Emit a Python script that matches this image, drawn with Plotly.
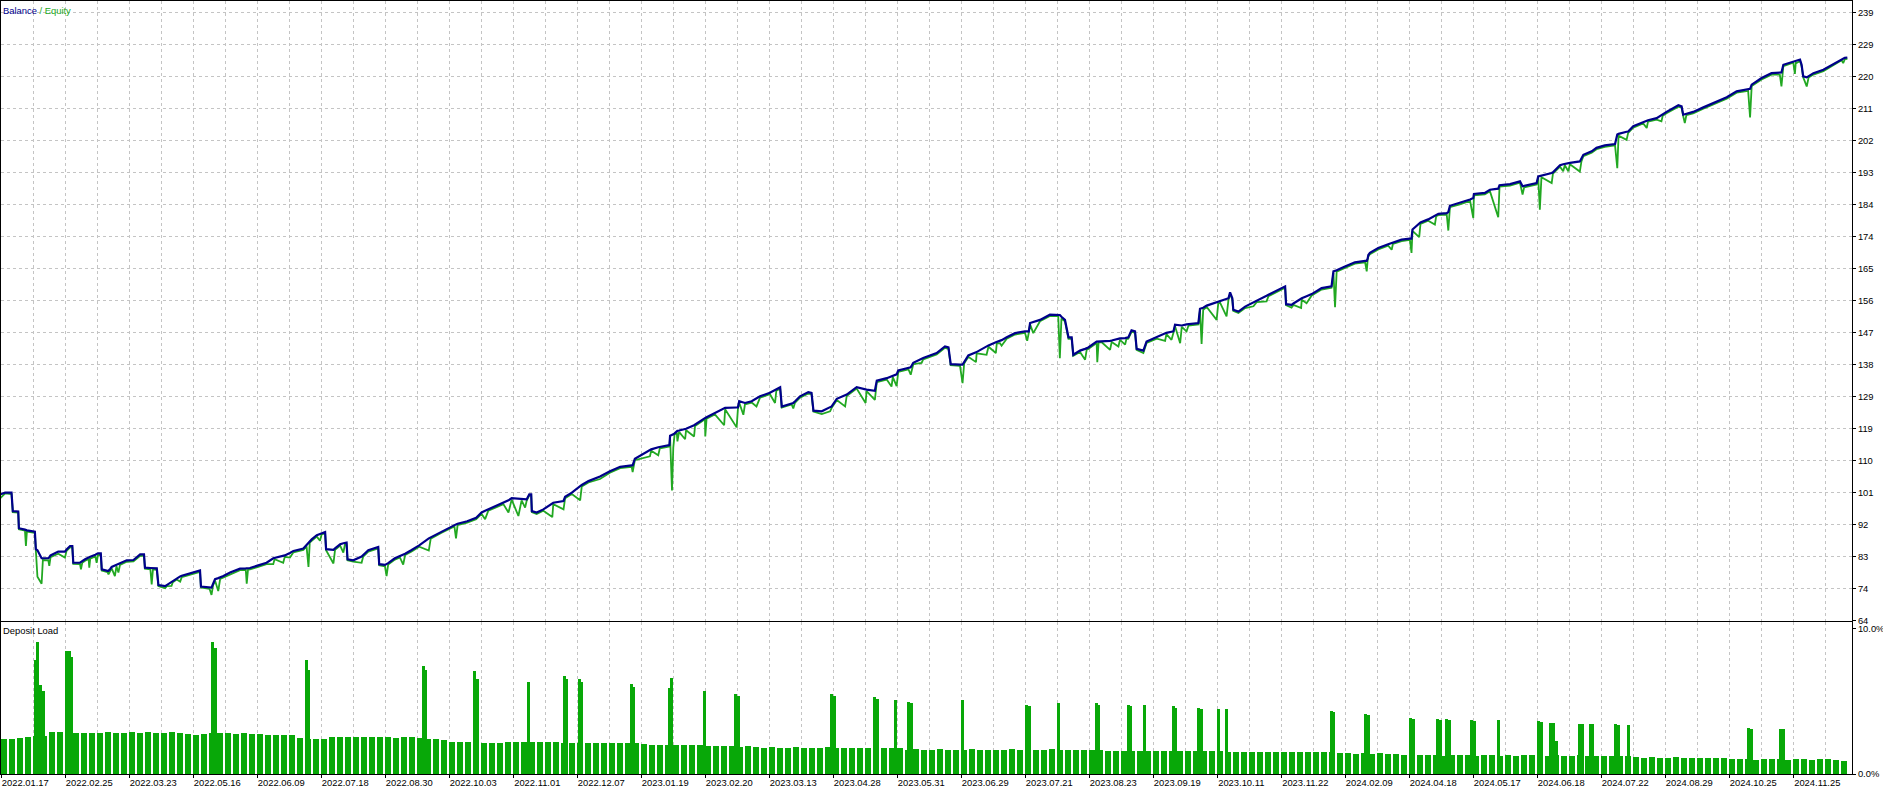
import numpy as np
import plotly.graph_objects as go

# ---------------- data ----------------
# x position in chart grid units (one unit = one vertical grid cell of the chart)
x_pos = [
    0.00, 0.16, 0.36, 0.40, 0.57, 0.59, 0.78, 0.81, 0.84, 1.09,
    1.12, 1.17, 1.30, 1.34, 1.51, 1.54, 1.58, 1.82, 2.03, 2.08,
    2.19, 2.26, 2.29, 2.50, 2.53, 2.57, 2.66, 2.77, 2.79, 2.82,
    2.98, 3.02, 3.06, 3.15, 3.18, 3.36, 3.39, 3.45, 3.49, 3.59,
    3.64, 3.70, 3.75, 3.96, 4.17, 4.38, 4.50, 4.53, 4.70, 4.74,
    4.78, 4.90, 4.95, 5.16, 5.21, 5.36, 5.40, 5.52, 5.63, 5.68,
    5.83, 6.25, 6.28, 6.55, 6.61, 6.66, 6.72, 6.82, 6.88, 6.98,
    7.19, 7.50, 7.68, 7.71, 7.75, 7.81, 8.02, 8.33, 8.54, 8.58,
    8.85, 8.90, 9.06, 9.17, 9.48, 9.58, 9.64, 9.68, 9.74, 9.90,
    10.00, 10.05, 10.16, 10.19, 10.42, 10.47, 10.63, 10.73, 10.78, 10.83,
    10.86, 11.04, 11.30, 11.35, 11.51, 11.82, 11.85, 12.03, 12.08, 12.13,
    12.34, 12.50,
    12.60, 12.66, 12.85, 13.10, 13.40, 13.46, 13.80, 14.20, 14.25, 14.30,
    14.60, 14.88,
    15.05, 15.16, 15.26, 15.52, 15.73, 15.89, 15.99, 16.20, 16.30, 16.41,
    16.46, 16.54, 16.60, 16.62, 16.77, 16.98, 17.26, 17.29, 17.61, 17.66,
    17.87, 18.13, 18.18, 18.39, 18.75, 19.06,
    19.38, 19.74, 19.77, 19.84, 20.31, 20.35, 20.57, 20.62, 20.92, 20.94,
    21.00, 21.04, 21.08, 21.15, 21.17, 21.22, 21.41, 21.44, 21.69, 21.72,
    22.03, 22.04, 22.08, 22.34, 22.63, 22.66, 23.02, 23.06, 23.10, 23.23,
    23.28, 23.49, 23.64, 23.75, 24.06, 24.22, 24.26, 24.38, 24.43, 24.74,
    24.79, 24.84, 25.00, 25.26, 25.36, 25.42, 25.68, 25.94, 25.99, 26.15,
    26.41, 26.46, 26.77, 27.05, 27.08, 27.34, 27.40, 27.71, 27.86, 27.90,
    28.02, 28.07, 28.39, 28.46, 28.54, 28.80, 28.85, 29.27, 29.53, 29.64,
    29.71, 30.00, 30.08, 30.13, 30.26, 30.50, 30.52, 30.83, 30.89, 31.12,
    31.15,
    31.25, 31.30, 31.46, 31.72, 32.03, 32.10, 32.15, 32.19, 32.29, 32.38,
    32.50, 32.81, 33.07, 33.12, 33.17, 33.28, 33.39, 33.49, 33.54, 33.75,
    33.91, 33.96, 34.01, 34.27, 34.29, 34.33, 34.43, 34.69, 34.74, 34.95,
    35.00, 35.16, 35.20, 35.26, 35.36, 35.47, 35.52, 35.73, 35.83, 36.15,
    36.41, 36.45, 36.61, 36.67, 36.72, 36.88, 36.93, 37.08, 37.14, 37.45,
    37.50, 37.55, 37.60, 37.71, 38.02, 38.07, 38.13, 38.33, 38.37, 38.39,
    38.44, 38.51, 38.54, 38.70, 38.91, 39.17, 39.27, 39.58, 39.64, 39.90,
    40.16, 40.19, 40.36, 40.42, 40.66, 40.68, 40.83, 40.99, 41.30, 41.61,
    41.67, 41.72, 41.77, 42.03, 42.34, 42.66, 42.71, 42.74, 42.76,
    42.81, 43.07, 43.38, 43.49, 43.53, 43.80, 44.06, 44.11, 44.14, 44.35,
    44.39, 44.63, 44.84, 44.88, 44.95, 45.21, 45.26, 45.31, 45.62, 45.94,
    46.04, 46.06, 46.40, 46.56, 46.82, 46.86, 47.19, 47.50, 47.58, 47.63,
    48.02, 48.07, 48.12, 48.17, 48.49, 48.53, 48.75, 48.85, 48.90, 49.01,
    49.06, 49.37, 49.42, 49.48, 49.74, 49.89, 50.15, 50.47, 50.54, 50.58,
    50.83, 50.88, 51.04, 51.35, 51.46, 51.50, 51.77, 51.92, 51.96, 52.08,
    52.45, 52.55, 52.60, 52.65, 52.70, 52.91, 53.23, 53.64, 53.96, 54.27,
    54.63, 54.69, 54.74, 55.05, 55.36, 55.62, 55.67, 55.73, 56.04, 56.09,
    56.12, 56.14, 56.25, 56.30, 56.35, 56.46, 56.52, 56.67, 56.98, 57.29,
    57.55, 57.60, 57.65, 57.73,
]

balance = [
    100.6, 101.1, 101.1, 95.8, 95.7, 90.9, 90.5, 90.4, 90.3, 89.9,
    84.9, 84.6, 82.3, 82.3, 82.3, 82.6, 83.1, 84.2, 84.2, 84.8,
    85.8, 85.8, 81.0, 81.0, 81.2, 81.4, 82.0, 82.5, 82.5, 82.7,
    83.3, 83.5, 83.7, 83.7, 79.1, 78.7, 78.7, 79.3, 79.8, 80.2,
    80.4, 80.6, 80.8, 81.7, 81.8, 83.4, 83.4, 79.6, 79.5, 79.5,
    79.5, 79.4, 74.6, 74.3, 74.6, 75.5, 75.8, 76.6, 77.1, 77.3,
    77.7, 78.8, 74.2, 73.9, 73.9, 75.0, 76.3, 76.6, 76.8, 77.2,
    78.2, 79.3, 79.4, 79.4, 79.4, 79.5, 80.1, 81.0, 82.3, 82.4,
    82.9, 83.1, 83.8, 84.4, 85.1, 86.1, 86.9, 87.2, 87.7, 88.9,
    89.3, 89.5, 89.8, 84.9, 84.7, 85.1, 86.3, 86.6, 86.7, 86.8,
    82.0, 81.7, 82.8, 83.2, 84.6, 85.5, 80.6, 80.4, 80.6, 80.9,
    82.3, 82.9,
    83.3, 83.6, 84.6, 86.0, 88.0, 88.3, 90.0, 91.8, 92.0, 92.2,
    92.9, 93.9,
    95.4, 95.9, 96.3, 97.3, 98.2, 98.9, 99.5, 99.4, 99.3, 99.2,
    99.2, 100.6, 100.6, 95.8, 95.4, 96.3, 98.0, 98.2, 98.7, 99.9,
    101.1, 103.0, 103.3, 104.4, 105.7, 107.2,
    108.5, 108.9, 108.9, 110.8, 113.4, 113.5, 114.1, 114.2, 114.7, 117.4,
    117.6, 117.8, 118.1, 118.7, 118.8, 118.9, 119.3, 119.4, 120.4, 120.6,
    122.5, 122.5, 122.7, 123.9, 125.3, 125.4, 125.5, 125.5, 127.3, 127.0,
    126.8, 127.3, 128.1, 128.7, 129.7, 130.5, 130.7, 131.3, 125.8, 126.8,
    126.8, 127.2, 128.7, 129.9, 129.7, 124.6, 124.4, 125.6, 125.8, 128.0,
    129.0, 129.2, 131.3, 130.6, 130.6, 130.3, 133.2, 133.9, 134.4, 134.6,
    135.0, 136.1, 136.8, 137.0, 138.3, 139.5, 139.7, 141.1, 143.0, 142.7,
    137.9, 137.8, 137.8, 138.5, 140.4, 141.3, 141.4, 143.0, 143.3, 144.2,
    144.3,
    144.6, 144.8, 145.6, 146.8, 147.3, 147.3, 147.3, 149.7, 150.0, 150.2,
    150.6, 152.1, 152.1, 152.0, 151.5, 150.6, 145.6, 145.6, 140.6, 141.8,
    142.3, 142.5, 142.7, 144.4, 144.4, 144.5, 144.6, 144.6, 144.7, 145.2,
    145.3, 145.4, 145.5, 145.6, 147.6, 147.3, 142.3, 141.8, 144.4, 145.6,
    146.8, 146.9, 147.2, 147.3, 149.2, 149.1, 149.0, 149.3, 149.4, 149.7,
    153.8, 153.9, 154.1, 154.7, 155.6, 155.7, 155.9, 156.6, 156.7, 156.8,
    158.5, 156.8, 153.5, 153.0, 154.4, 155.7, 156.1, 157.5, 157.8, 159.0,
    160.2, 155.1, 154.9, 155.3, 156.7, 156.8, 157.4, 158.0, 159.7, 160.2,
    164.5, 164.6, 164.8, 165.9, 167.1, 167.5, 167.5, 168.2, 169.2,
    169.8, 171.2, 172.3, 172.7, 172.8, 173.6, 173.9, 173.9, 176.5, 178.2,
    178.5, 179.4, 180.5, 180.7, 181.0, 181.2, 181.5, 183.3, 184.1, 185.1,
    185.5, 186.7, 187.0, 187.9, 188.2, 189.2, 189.5, 190.3, 188.9, 189.0,
    189.8, 191.7, 191.8, 191.9, 192.7, 192.9, 194.9, 195.2, 195.3, 195.5,
    195.6, 196.0, 196.8, 197.9, 198.9, 199.9, 200.6, 201.0, 203.7, 203.9,
    204.5, 204.6, 206.1, 207.3, 207.6, 207.8, 208.4, 209.3, 209.5, 210.2,
    212.1, 211.8, 209.4, 209.5, 209.7, 210.2, 211.5, 213.2, 214.4, 216.1,
    216.6, 216.8, 218.0, 219.9, 221.3, 221.3, 221.5, 223.7, 224.7, 224.8,
    224.9, 225.0, 225.2, 223.7, 220.4, 220.1, 220.5, 221.3, 222.3, 223.9,
    225.4, 225.6, 225.7, 225.8,
]

equity = [
    99.4, 100.9, 100.7, 95.5, 95.4, 90.6, 90.2, 85.8, 89.9, 89.6,
    84.6, 77.0, 75.0, 81.8, 81.7, 80.1, 82.6, 83.6, 82.5, 84.4,
    85.4, 85.4, 80.7, 80.6, 79.1, 81.0, 81.6, 82.0, 79.6, 82.2,
    82.8, 81.0, 83.2, 83.3, 78.8, 78.3, 77.7, 78.9, 79.4, 77.2,
    80.0, 78.2, 80.4, 81.3, 81.4, 83.0, 83.0, 79.3, 79.1, 74.8,
    79.1, 79.0, 74.3, 73.7, 74.3, 74.4, 75.4, 76.2, 75.6, 76.9,
    77.3, 78.4, 73.9, 73.5, 71.8, 74.6, 75.9, 72.9, 76.4, 76.8,
    77.8, 78.9, 79.0, 75.0, 79.0, 79.1, 79.7, 80.6, 80.6, 82.0,
    81.0, 82.7, 82.5, 84.0, 84.7, 85.7, 79.8, 86.8, 87.3, 88.5,
    87.3, 89.1, 89.4, 84.6, 80.8, 84.7, 85.9, 83.9, 86.3, 86.4,
    81.7, 81.3, 81.0, 82.8, 84.2, 85.1, 80.3, 80.0, 77.2, 80.5,
    81.9, 82.5,
    80.5, 83.2, 84.2, 85.6, 84.5, 87.9, 89.6, 91.4, 88.0, 91.8,
    92.5, 93.5,
    95.0, 93.5, 95.9, 96.9, 97.8, 95.4, 99.1, 94.4, 98.9, 96.8,
    98.8, 100.3, 100.4, 95.5, 95.0, 95.9, 94.1, 97.8, 96.3, 99.5,
    100.7, 98.9, 102.9, 104.0, 105.0, 106.8,
    108.1, 108.5, 107.0, 110.4, 111.5, 113.1, 111.8, 113.8, 114.3, 117.0,
    101.7, 114.0, 117.7, 118.3, 115.8, 118.5, 116.4, 119.0, 117.2, 120.2,
    122.1, 117.2, 122.3, 123.5, 120.4, 125.0, 119.8, 125.1, 126.9, 123.4,
    126.4, 126.9, 125.8, 128.3, 129.3, 126.8, 130.3, 130.9, 125.5, 126.4,
    125.2, 126.8, 128.3, 129.5, 129.3, 124.3, 123.6, 124.4, 125.4, 127.6,
    125.8, 128.8, 130.9, 126.8, 130.2, 127.7, 132.8, 133.5, 131.5, 134.2,
    131.6, 135.7, 136.4, 134.9, 137.9, 138.3, 139.3, 140.7, 142.6, 142.3,
    137.6, 137.4, 132.5, 138.1, 140.0, 138.5, 141.0, 140.6, 142.9, 141.1,
    143.9,
    143.9, 143.2, 145.2, 146.4, 146.9, 144.6, 146.9, 149.3, 146.8, 148.2,
    150.2, 151.7, 151.7, 139.6, 151.0, 150.2, 145.2, 145.2, 140.3, 141.4,
    139.2, 142.1, 142.3, 144.0, 138.5, 144.1, 144.2, 142.0, 144.3, 143.0,
    144.9, 143.5, 145.1, 145.2, 147.2, 146.9, 142.0, 141.1, 144.0, 145.2,
    144.6, 146.5, 144.9, 146.9, 148.8, 143.9, 148.6, 147.3, 149.0, 149.3,
    153.4, 143.7, 153.5, 154.3, 150.6, 155.3, 155.5, 151.6, 156.3, 156.4,
    158.1, 156.4, 153.2, 152.6, 154.0, 154.5, 155.7, 155.9, 157.4, 158.6,
    159.8, 154.8, 154.1, 154.9, 154.0, 156.4, 155.4, 157.6, 159.3, 159.8,
    164.1, 154.2, 164.4, 165.5, 166.7, 167.1, 164.5, 167.8, 168.8,
    169.4, 170.8, 171.9, 170.7, 172.4, 173.2, 173.5, 169.8, 176.1, 174.3,
    178.1, 179.0, 177.9, 180.3, 180.6, 180.8, 176.2, 182.9, 183.7, 184.7,
    179.8, 186.3, 186.6, 187.5, 180.0, 188.8, 189.1, 189.9, 186.5, 188.6,
    189.4, 191.3, 182.2, 191.5, 189.8, 192.5, 194.5, 193.2, 194.9, 193.2,
    195.2, 193.1, 196.0, 197.5, 198.5, 199.5, 200.2, 200.6, 194.1, 203.4,
    202.2, 204.2, 205.7, 206.9, 205.6, 207.4, 208.0, 207.5, 209.1, 209.8,
    211.7, 211.4, 209.0, 207.0, 209.3, 209.8, 211.1, 212.8, 214.0, 215.7,
    216.2, 208.6, 217.6, 219.5, 220.9, 220.9, 217.5, 223.3, 224.3, 221.1,
    224.5, 224.2, 224.8, 223.3, 220.1, 217.5, 220.1, 220.9, 221.9, 223.5,
    225.0, 224.2, 225.3, 225.4,
]

# deposit load (%) – regular bars, one per quarter grid cell
load_base = [
    2.37, 2.37, 2.43, 2.53, 2.58, 2.58, 2.87, 2.85, 2.81, 2.81,
    2.79, 2.83, 2.81, 2.84, 2.83, 2.79, 2.85, 2.83, 2.84, 2.81,
    2.83, 2.84, 2.79, 2.73, 2.69, 2.71, 2.79, 2.83, 2.79, 2.77,
    2.81, 2.75, 2.77, 2.69, 2.67, 2.65, 2.67, 2.48, 2.38, 2.37,
    2.37, 2.52, 2.54, 2.50, 2.52, 2.53, 2.50, 2.52, 2.52, 2.48,
    2.50, 2.52, 2.48, 2.38, 2.36, 2.34, 2.18, 2.17, 2.19, 2.15,
    2.09, 2.09, 2.11, 2.19, 2.17, 2.19, 2.21, 2.19, 2.17, 2.19,
    2.13, 2.12, 2.11, 2.13, 2.12, 2.10, 2.12, 2.11, 2.09, 2.11,
    2.02, 1.98, 2.01, 1.96, 1.98, 1.96, 1.98, 1.96, 1.91, 1.90,
    1.88, 1.90, 1.86, 1.88, 1.84, 1.80, 1.81, 1.79, 1.80, 1.82,
    1.80, 1.78, 1.80, 1.81, 1.79, 1.80, 1.78, 1.80, 1.79, 1.81,
    1.80, 1.78, 1.79, 1.66, 1.67, 1.65, 1.66, 1.68, 1.66, 1.64,
    1.66, 1.67, 1.65, 1.66, 1.64, 1.66, 1.67, 1.66, 1.65, 1.64,
    1.66, 1.67, 1.65, 1.66, 1.64, 1.65, 1.66, 1.64, 1.57, 1.58,
    1.56, 1.57, 1.59, 1.57, 1.55, 1.57, 1.58, 1.56, 1.57, 1.55,
    1.57, 1.56, 1.55, 1.52, 1.53, 1.51, 1.52, 1.50, 1.52, 1.53,
    1.51, 1.52, 1.50, 1.51, 1.52, 1.50, 1.48, 1.40, 1.41, 1.39,
    1.40, 1.38, 1.40, 1.39, 1.38, 1.27, 1.26, 1.28, 1.26, 1.27,
    1.25, 1.26, 1.27, 1.26, 1.25, 1.27, 1.26, 1.24, 1.26, 1.25,
    1.26, 1.27, 1.25, 1.24, 1.26, 1.25, 1.24, 1.26, 1.25, 1.23,
    1.24, 1.25, 1.23, 1.22, 1.12, 1.11, 1.12, 1.10, 1.11, 1.12,
    1.10, 1.11, 1.10, 1.09, 1.11, 1.10, 0.99, 0.98, 0.99, 0.97,
    0.98, 0.99, 0.98, 0.97, 0.98, 0.99, 0.97, 0.98, 0.98, 0.97,
    0.91,
]

# deposit load spikes (position in grid units, load %)
spike_x = [
    1.094, 1.172, 1.266, 1.359, 2.078, 2.156, 2.219, 6.641, 6.734, 9.563,
    9.641, 13.219, 13.297, 14.828, 14.922, 16.500, 17.625, 17.688, 18.094, 18.172,
    19.719, 19.797, 20.922, 20.984, 22.016, 22.984, 23.063, 25.984, 26.078, 27.328,
    27.406, 27.969, 28.391, 28.469, 30.063, 32.078, 32.156, 33.078, 34.250, 34.328,
    35.266, 35.328, 35.766, 36.672, 36.734, 37.453, 37.531, 38.063, 38.328, 41.594,
    41.672, 42.672, 42.750, 44.078, 44.172, 44.922, 45.016, 45.203, 45.297, 45.984,
    46.078, 46.813, 48.078, 48.156, 48.453, 48.547, 48.625, 49.359, 49.438, 49.703,
    49.766, 50.484, 50.578, 50.875, 54.641, 54.719, 55.641, 55.734,
]
spike_load = [
    7.86, 9.10, 6.10, 5.69, 8.48, 8.48, 8.06, 9.10, 8.68, 7.81,
    7.13, 7.44, 7.13, 7.08, 6.51, 6.31, 6.72, 6.51, 6.51, 6.31,
    6.20, 6.00, 5.89, 6.62, 5.69, 5.48, 5.38, 5.48, 5.38, 5.27,
    5.17, 5.07, 4.96, 4.86, 5.07, 4.76, 4.65, 4.86, 4.86, 4.76,
    4.76, 4.65, 4.76, 4.65, 4.55, 4.55, 4.45, 4.45, 4.45, 4.34,
    4.24, 4.14, 4.03, 3.86, 3.77, 3.74, 3.70, 3.74, 3.70, 3.67,
    3.62, 3.67, 3.63, 3.57, 3.51, 3.49, 2.27, 3.44, 3.41, 3.44,
    3.41, 3.40, 3.36, 3.33, 3.17, 3.10, 3.10, 3.05,
]

date_labels = [
    "2022.01.17", "2022.02.25", "2022.03.23", "2022.05.16", "2022.06.09",
    "2022.07.18", "2022.08.30", "2022.10.03", "2022.11.01", "2022.12.07",
    "2023.01.19", "2023.02.20", "2023.03.13", "2023.04.28", "2023.05.31",
    "2023.06.29", "2023.07.21", "2023.08.23", "2023.09.19", "2023.10.11",
    "2023.11.22", "2024.02.09", "2024.04.18", "2024.05.17", "2024.06.18",
    "2024.07.22", "2024.08.29", "2024.10.25", "2024.11.25",
]

y_labels = ["64", "74", "83", "92", "101", "110", "119", "129", "138", "147",
            "156", "165", "174", "184", "193", "202", "211", "220", "229", "239"]
y_start = 64.4
y_step = 9.17

load_labels = ["0.0%", "10.0%"]
load_ticks = [0, 10]

# ---------------- styling ----------------
BAL = "#00008b"
EQ = "#22a822"
LOAD = "#08a808"
GRID = "#c4c4c4"
FONT = "Liberation Sans"
FS = 9.4

W, H = 1883, 787
ML, MR, MT, MB = 1, 31, 1, 13
plot_h = H - MT - MB
top_bottom_px = 620.7
bot_top_px = 622.3
dom_top = [(H - MB - top_bottom_px) / plot_h, 1.0]
dom_bot = [0.0, (H - MB - bot_top_px) / plot_h]

x_range = [ML / 32.0, (W - MR) / 32.0]
y_top = y_start + (top_bottom_px - MT) / 32.0 * y_step
y_range = [y_start, y_top]
load_top = (H - MB - bot_top_px) / 14.51

major_x = [0.04 + 2 * k for k in range(len(date_labels))]
minor_x = [1.04 + 2 * k for k in range(len(date_labels))]
y_ticks = [y_start + y_step * k for k in range(len(y_labels))]

load_x = 0.125 + 0.25 * np.arange(len(load_base))

fig = go.Figure()
fig.add_trace(go.Scatter(x=x_pos, y=equity, mode="lines",
                         line=dict(color=EQ, width=1.8),
                         xaxis="x", yaxis="y", hoverinfo="skip"))
fig.add_trace(go.Scatter(x=x_pos, y=balance, mode="lines",
                         line=dict(color=BAL, width=2.2),
                         xaxis="x", yaxis="y", hoverinfo="skip"))
fig.add_trace(go.Bar(x=load_x, y=load_base, width=0.215,
                     marker=dict(color=LOAD, line=dict(width=0)),
                     xaxis="x2", yaxis="y2", hoverinfo="skip"))
fig.add_trace(go.Bar(x=spike_x, y=spike_load, width=0.094,
                     marker=dict(color=LOAD, line=dict(width=0)),
                     xaxis="x2", yaxis="y2", hoverinfo="skip"))

common_x = dict(
    range=x_range, tickmode="array", tickvals=major_x,
    showgrid=True, gridcolor=GRID, griddash="3px,3px", gridwidth=1,
    minor=dict(tickvals=minor_x, showgrid=True, gridcolor=GRID,
               griddash="3px,3px", gridwidth=1, ticks=""),
    showline=True, linecolor="black", linewidth=1, mirror=True,
    zeroline=False, automargin=False, fixedrange=True,
)

fig.update_layout(
    width=W, height=H,
    margin=dict(l=ML, r=MR, t=MT, b=MB, pad=0),
    paper_bgcolor="white", plot_bgcolor="white",
    showlegend=False, barmode="overlay", bargap=0,
    font=dict(family=FONT, size=FS, color="black"),
    xaxis=dict(**common_x, domain=[0, 1], anchor="y",
               showticklabels=False, ticks=""),
    xaxis2=dict(**common_x, domain=[0, 1], anchor="y2",
                ticktext=date_labels, showticklabels=True,
                ticks="outside", ticklen=3, tickcolor="black",
                ticklabelshift=24, ticklabelstandoff=-3,
                tickfont=dict(family=FONT, size=FS, color="black")),
    yaxis=dict(domain=dom_top, range=y_range, side="right", anchor="x",
               tickmode="array", tickvals=y_ticks, ticktext=y_labels,
               ticks="outside", ticklen=3, tickcolor="black",
               showgrid=True, gridcolor=GRID, griddash="3px,3px", gridwidth=1,
               showline=True, linecolor="black", linewidth=1, mirror=True,
               zeroline=False, automargin=False, fixedrange=True,
               tickfont=dict(family=FONT, size=FS, color="black")),
    yaxis2=dict(domain=dom_bot, range=[0, load_top], side="right", anchor="x2",
                tickmode="array", tickvals=load_ticks, ticktext=load_labels,
                ticks="outside", ticklen=3, tickcolor="black",
                showgrid=False,
                showline=True, linecolor="black", linewidth=1, mirror=True,
                zeroline=False, automargin=False, fixedrange=True,
                tickfont=dict(family=FONT, size=FS, color="black")),
)

fig.add_annotation(
    xref="paper", yref="paper", x=0, y=(H - MB - 10) / plot_h,
    xanchor="left", yanchor="middle", showarrow=False,
    text=f'<span style="color:{BAL}">Balance</span><span style="color:{EQ}"> / Equity</span>',
    font=dict(family=FONT, size=FS),
)
fig.add_annotation(
    xref="paper", yref="paper", x=0, y=(H - MB - 630.8) / plot_h,
    xanchor="left", yanchor="middle", showarrow=False,
    text="Deposit Load", font=dict(family=FONT, size=FS, color="black"),
)

fig.write_html(
    "out.html",
    config={"displayModeBar": False},
    post_script="document.body.style.margin='0';document.body.style.padding='0';"
                "document.body.style.overflow='hidden';",
)
